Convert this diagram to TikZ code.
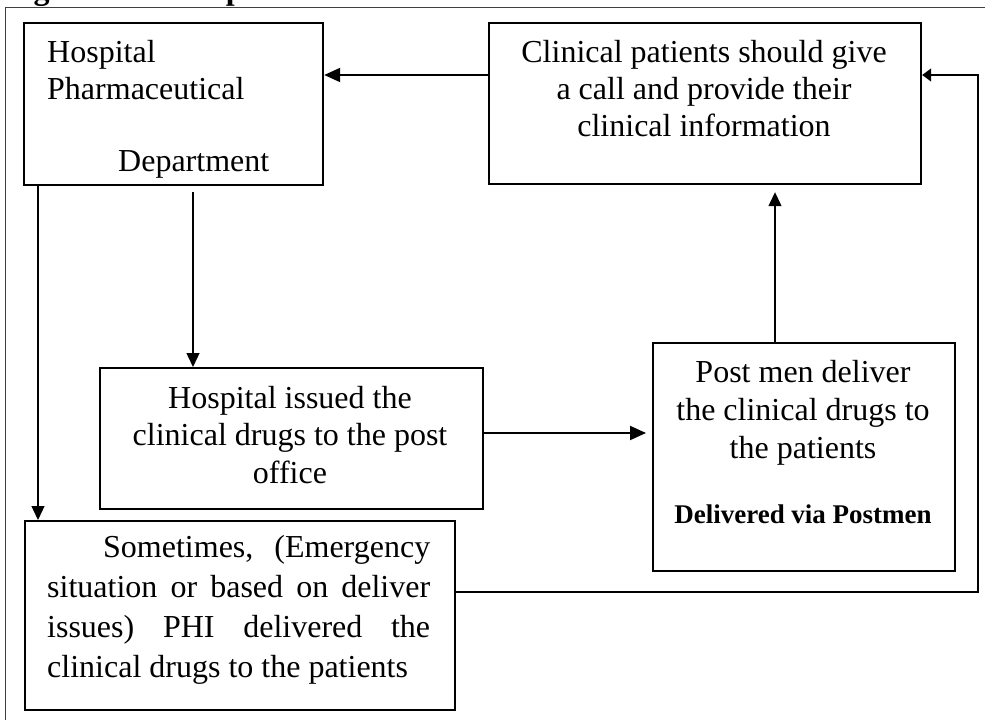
\documentclass[tikz,border=0pt]{standalone}
\usepackage{fontspec}
\setmainfont{Liberation Serif}
\usetikzlibrary{arrows.meta}
\begin{document}
\begin{tikzpicture}[x=1pt,y=-1pt,
  box/.style={draw, line width=2.2pt, inner sep=0pt, anchor=north west},
  txt/.style={inner sep=0pt, font=\fontsize{32}{38}\selectfont},
  boldtxt/.style={inner sep=0pt, font=\bfseries\fontsize{27}{31}\selectfont},
  arrthick/.style={line width=2pt, -{Triangle[length=16pt,width=14pt]}},
  arrthin/.style={line width=1.3pt, -{Triangle[length=14pt,width=13pt]}},
  arrsmall/.style={line width=1.3pt, -{Triangle[length=9pt,width=13pt]}},
  frame/.style={line width=1pt, draw=black!75}]
\useasboundingbox (0,0) rectangle (985,723);
\clip (0,0) rectangle (985,723);

% frame and cut title
\draw[frame] (5,720) -- (5,7) -- (990,7);
\node[anchor=base west, inner sep=0pt, font=\bfseries\fontsize{32}{38}\selectfont] (title) at (5,-1) {Figure 1: Conceptual Framework};

% boxes
\node[box, minimum width=299pt, minimum height=162pt] (b1) at (23,22) {};
\node[box, minimum width=432pt, minimum height=161pt] (b2) at (488,22) {};
\node[box, minimum width=383pt, minimum height=141pt] (b3) at (99,367) {};
\node[box, minimum width=302pt, minimum height=228pt] (b4) at (652,342) {};
\node[box, minimum width=430pt, minimum height=189pt] (b5) at (24,520) {};

% box 1 text
\node[txt, anchor=base west] (t11) at (47,62) {Hospital};
\node[txt, anchor=base west] (t12) at (47,99) {Pharmaceutical};
\node[txt, anchor=base west] (t13) at (118,171) {Department};

% box 2 text
\node[txt, anchor=base] (t21) at (704,62) {Clinical patients should give};
\node[txt, anchor=base] (t22) at (704,99) {a call and provide their};
\node[txt, anchor=base] (t23) at (704,136) {clinical information};

% box 3 text
\node[txt, anchor=base] (t31) at (290,408) {Hospital issued the};
\node[txt, anchor=base] (t32) at (290,445) {clinical drugs to the post};
\node[txt, anchor=base] (t33) at (290,483) {office};

% box 4 text
\node[txt, anchor=base] (t41) at (803,382) {Post men deliver};
\node[txt, anchor=base] (t42) at (803,420) {the clinical drugs to};
\node[txt, anchor=base] (t43) at (803,458) {the patients};
\node[boldtxt, anchor=base] (t44) at (803,523) {Delivered via Postmen};

% box 5 text (justified)
\node[txt, anchor=base west] (t51) at (103,557) {\hbox to 327pt{Sometimes,\hfill(Emergency}};
\node[txt, anchor=base west] (t52) at (47,597) {\hbox to 383pt{situation\hfill or\hfill based\hfill on\hfill deliver}};
\node[txt, anchor=base west] (t53) at (47,637) {\hbox to 383pt{issues)\hfill PHI\hfill delivered\hfill the}};
\node[txt, anchor=base west] (t54) at (47,677) {clinical drugs to the patients};

% helper coordinates
\coordinate (y75) at (0,75);
\coordinate (x38) at (38,0);
\coordinate (s193) at (193,192);
\coordinate (y433) at (0,433);
\coordinate (x775) at (775,0);
\coordinate (r1) at (978,592);
\coordinate (r2) at (978,75);

% connectors
\draw[arrthick] (b2.west |- y75) -- (b1.east |- y75);
\draw[arrthin] (b1.south -| x38) -- (b5.north -| x38);
\draw[arrthin] (s193) -- (b3.north -| s193);
\draw[arrthick, shorten >=6pt] (b3.east |- y433) -- (b4.west |- y433);
\draw[arrthin, shorten >=7pt] (b4.north -| x775) -- (b2.south -| x775);
\draw[arrsmall] (b5.east |- r1) -- (r1) -- (r2) -- (b2.east |- r2);
\end{tikzpicture}
\end{document}
